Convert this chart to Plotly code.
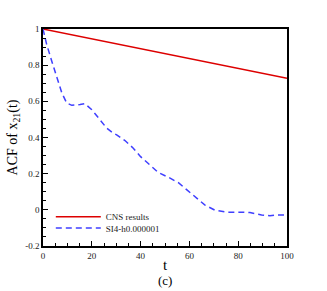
import plotly.graph_objects as go

# Data
t_cns = [0, 20, 40, 60, 80, 100]
acf_cns = [1.0, 0.945, 0.891, 0.836, 0.782, 0.727]

t_si4 = [0, 1.5, 3.6, 5.6, 7.7, 9.7, 11.8, 15.2, 17.2, 20, 22.7, 26.1, 28.8, 30.2,
         33.6, 37, 40, 43.6, 47.3, 51.4, 55.5, 59.1, 63, 66.4, 70.5, 75.3, 80.7,
         84.8, 89.6, 93, 95.8, 100]
acf_si4 = [1.0, 0.915, 0.822, 0.73, 0.647, 0.591, 0.578, 0.582, 0.587, 0.554, 0.508,
           0.452, 0.424, 0.415, 0.383, 0.341, 0.294, 0.248, 0.206, 0.18, 0.15, 0.109,
           0.063, 0.026, -0.002, -0.013, -0.013, -0.015, -0.028, -0.033, -0.028, -0.029]

names = ["CNS results", "SI4-h0.000001"]
x_ticks = [0, 20, 40, 60, 80, 100]
y_ticks = [-0.2, 0, 0.2, 0.4, 0.6, 0.8, 1]
y_ticklabels = ["-0.2", "0", "0.2", "0.4", "0.6", "0.8", "1"]

FONT = "Liberation Serif"

fig = go.Figure()
fig.add_trace(go.Scatter(x=t_cns, y=acf_cns, mode="lines", name=names[0],
                         line=dict(color="#dd0000", width=1.5), legend="legend"))
fig.add_trace(go.Scatter(x=t_si4, y=acf_si4, mode="lines", name=names[1],
                         line=dict(color="#3f3fff", width=1.5, dash="6px,4px"),
                         legend="legend2"))

axis_common = dict(showgrid=False, zeroline=False, showline=True, linecolor="black",
                   linewidth=1.5, mirror=True, ticks="inside", ticklen=5,
                   tickcolor="black", tickfont=dict(family=FONT, size=9, color="#222"))

legend_common = dict(xanchor="left", yanchor="middle", itemwidth=45,
                     bgcolor="rgba(0,0,0,0)", font=dict(family=FONT, size=9, color="#222"))

fig.update_layout(
    width=327, height=291,
    margin=dict(l=43, r=40, t=29, b=45),
    paper_bgcolor="white", plot_bgcolor="white",
    font=dict(family=FONT, color="black"),
    xaxis=dict(range=[0, 100], tickvals=x_ticks,
               minor=dict(dtick=5, ticks="inside", ticklen=3, tickcolor="black"),
               title=dict(text="t", font=dict(family=FONT, size=15), standoff=0),
               **axis_common),
    yaxis=dict(range=[-0.2, 1], tickvals=y_ticks, ticktext=y_ticklabels,
               minor=dict(dtick=0.05, ticks="inside", ticklen=3, tickcolor="black"),
               title=dict(text="ACF of x<sub>21</sub>(t)", font=dict(family=FONT, size=14),
                          standoff=4),
               **axis_common),
    legend=dict(x=0.032, y=0.135, **legend_common),
    legend2=dict(x=0.032, y=0.083, **legend_common),
    showlegend=True,
)

fig.add_annotation(text="(c)", xref="paper", yref="paper", x=0.5, y=-0.158,
                   showarrow=False, font=dict(family=FONT, size=13, color="black"),
                   yanchor="middle")

fig.write_html("out.html", config={"displayModeBar": False},
               post_script="document.body.style.margin='0px';")
